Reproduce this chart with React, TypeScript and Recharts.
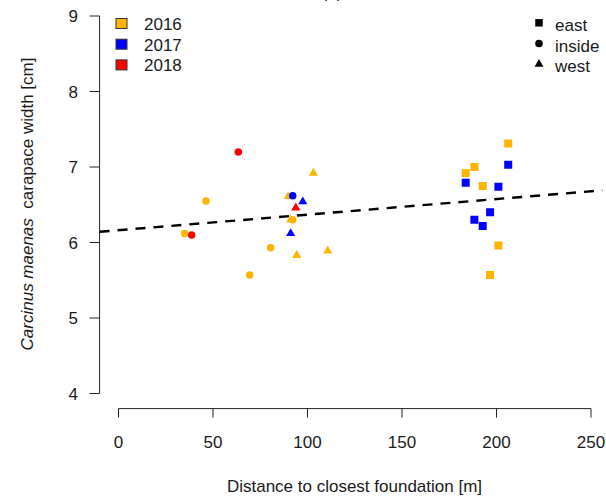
import React from 'react';
import { ScatterChart, Scatter, XAxis, YAxis, ReferenceLine, Symbols } from 'recharts';

// ---- data ----
const years = ['2016', '2017', '2018'];
const yearColors = ['#FFB400', '#0000FF', '#FF0000'];
const sites = ['east', 'inside', 'west'];
const siteShapes = ['square', 'circle', 'triangle'];
const xTicks = [0, 50, 100, 150, 200, 250];
const yTicks = [4, 5, 6, 7, 8, 9];

const east2016 = [
  { x: 206.2, y: 7.31 }, { x: 188.3, y: 7.0 }, { x: 183.7, y: 6.92 },
  { x: 192.7, y: 6.75 }, { x: 201.0, y: 5.96 }, { x: 196.6, y: 5.57 },
];
const east2017 = [
  { x: 206.2, y: 7.03 }, { x: 183.7, y: 6.79 }, { x: 201.0, y: 6.74 },
  { x: 196.6, y: 6.4 }, { x: 188.3, y: 6.3 }, { x: 192.7, y: 6.22 },
];
const inside2016 = [
  { x: 46.3, y: 6.55 }, { x: 92.2, y: 6.3 }, { x: 35.0, y: 6.12 },
  { x: 80.5, y: 5.93 }, { x: 69.4, y: 5.57 },
];
const inside2017 = [{ x: 92.2, y: 6.62 }];
const inside2018 = [{ x: 63.4, y: 7.2 }, { x: 38.7, y: 6.1 }];
const west2016 = [
  { x: 103.1, y: 6.92 }, { x: 89.8, y: 6.61 }, { x: 91.1, y: 6.3 },
  { x: 94.3, y: 5.83 }, { x: 110.7, y: 5.89 },
];
const west2017 = [{ x: 97.5, y: 6.54 }, { x: 91.1, y: 6.12 }];
const west2018 = [{ x: 93.8, y: 6.46 }];

const fitX = [-10, 256];
const fitY = [6.142, 6.691];

const xLabel = 'Distance to closest foundation [m]';
const yLabelItalic = 'Carcinus maenas';
const yLabelRest = '\u00A0\u00A0carapace width [cm]';

// ---- styling ----
const FONT = '"Liberation Sans", Arial, sans-serif';
const TEXT = '#1a1a1a';
const AXIS = '#222';
const shapeSize: Record<string, number> = { square: 64, circle: 44, triangle: 36 };

const makeShape = (type: any) => (props: any) => (
  <Symbols type={type} size={shapeSize[type]} sizeType="area" cx={props.cx} cy={props.cy} fill={props.fill} stroke="none" />
);

const XTick = (p: any) => (
  <text x={p.x} y={447.5} textAnchor="middle" fontSize={17} fontFamily={FONT} fill={TEXT}>
    {p.payload.value}
  </text>
);
const YTick = (p: any) => (
  <text x={78} y={p.y + 6} textAnchor="end" fontSize={17} fontFamily={FONT} fill={TEXT}>
    {p.payload.value}
  </text>
);

const series = [
  { data: west2016, year: 0, site: 2 },
  { data: east2016, year: 0, site: 0 },
  { data: inside2016, year: 0, site: 1 },
  { data: west2017, year: 1, site: 2 },
  { data: east2017, year: 1, site: 0 },
  { data: inside2017, year: 1, site: 1 },
  { data: west2018, year: 2, site: 2 },
  { data: inside2018, year: 2, site: 1 },
];

const legendSymbolSize: Record<string, number> = { square: 56, circle: 46, triangle: 34 };

export default function App() {
  return (
    <div style={{ position: 'absolute', left: 0, top: 0, width: 606, height: 497, background: '#fff', fontFamily: FONT }}>
      <ScatterChart width={606} height={497} margin={{ top: 0.9, right: 0, bottom: 28.4, left: 0.6 }}>
        <XAxis
          type="number"
          dataKey="x"
          domain={[-10, 257.94]}
          allowDataOverflow
          ticks={xTicks}
          height={60}
          axisLine={false}
          tickSize={9}
          tickLine={{ stroke: AXIS, strokeWidth: 1 }}
          tick={XTick}
        />
        <YAxis
          type="number"
          dataKey="y"
          domain={[3.8, 9.2]}
          allowDataOverflow
          ticks={yTicks}
          width={99}
          axisLine={false}
          tickSize={10}
          tickLine={{ stroke: AXIS, strokeWidth: 1 }}
          tick={YTick}
        />
        <ReferenceLine
          segment={[{ x: xTicks[0], y: 3.8 }, { x: xTicks[xTicks.length - 1], y: 3.8 }]}
          stroke={AXIS}
          strokeWidth={1}
          ifOverflow="visible"
        />
        <ReferenceLine
          segment={[{ x: -10, y: yTicks[0] }, { x: -10, y: yTicks[yTicks.length - 1] }]}
          stroke={AXIS}
          strokeWidth={1}
          ifOverflow="visible"
        />
        {series.map((s, i) => (
          <Scatter
            key={i}
            name={`${sites[s.site]} ${years[s.year]}`}
            data={s.data}
            fill={yearColors[s.year]}
            shape={makeShape(siteShapes[s.site])}
            isAnimationActive={false}
          />
        ))}
        <ReferenceLine
          segment={[{ x: fitX[0], y: fitY[0] }, { x: fitX[1], y: fitY[1] }]}
          stroke="#000"
          strokeWidth={2.4}
          strokeDasharray="10 8"
          ifOverflow="visible"
        />
      </ScatterChart>
      <svg width={606} height={497} style={{ position: 'absolute', left: 0, top: 0, pointerEvents: 'none' }}>
        <text x={332} y={-2} textAnchor="middle" fontSize={17} fontFamily={FONT} fill={TEXT}>(a)</text>
        {years.map((y, i) => (
          <g key={y}>
            <rect x={116} y={18.5 + i * 20.7} width={11} height={10} fill={yearColors[i]} stroke="#333" strokeWidth={1} />
            <text x={144} y={29.9 + i * 20.7} fontSize={17} fontFamily={FONT} fill={TEXT}>{y}</text>
          </g>
        ))}
        {sites.map((s, i) => (
          <g key={s}>
            <Symbols type={siteShapes[i] as any} size={legendSymbolSize[siteShapes[i]]} cx={539} cy={22.8 + i * 20.7} fill="#000" />
            <text x={555} y={31 + i * 20.7} fontSize={17} fontFamily={FONT} fill={TEXT}>{s}</text>
          </g>
        ))}
        <text x={354.5} y={491.5} textAnchor="middle" fontSize={17} fontFamily={FONT} fill={TEXT}>{xLabel}</text>
        <text x={33} y={204} transform="rotate(-90 33 204)" textAnchor="middle" fontSize={17} fontFamily={FONT} fill={TEXT}>
          <tspan fontStyle="italic">{yLabelItalic}</tspan>
          <tspan>{yLabelRest}</tspan>
        </text>
      </svg>
    </div>
  );
}
